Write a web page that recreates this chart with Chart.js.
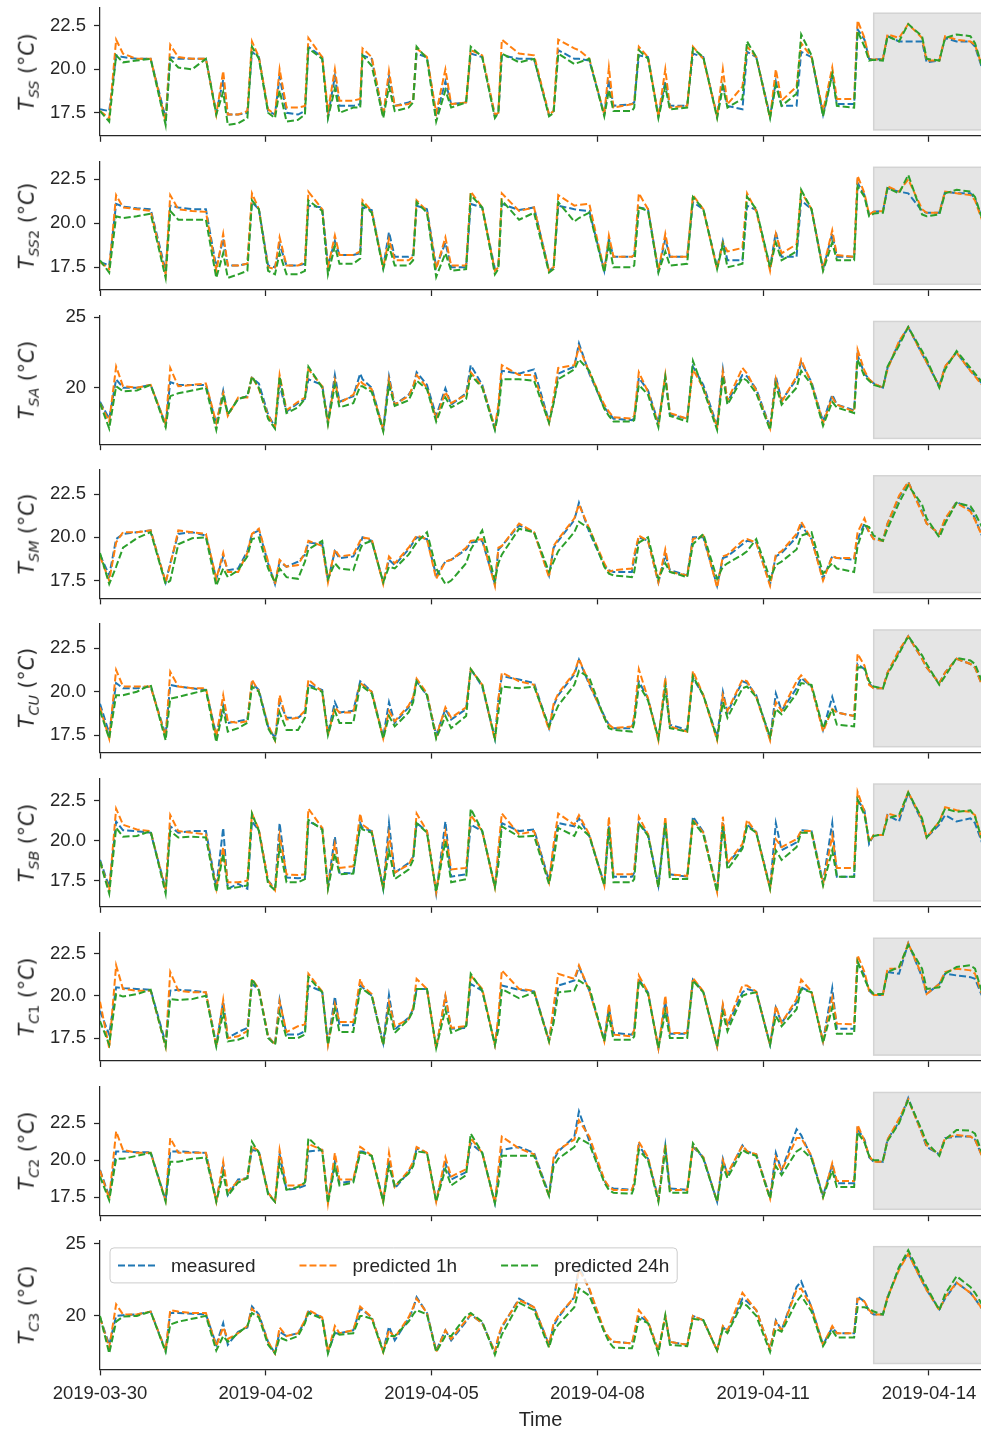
<!DOCTYPE html>
<html>
<head>
<meta charset="utf-8">
<script src="https://cdn.jsdelivr.net/npm/chart.js@4.4.1/dist/chart.umd.min.js"></script>
<style>
  html, body { margin: 0; padding: 0; background: #fff; }
  #fig { position: relative; width: 981px; height: 1433px; overflow: hidden; }
  #fig canvas { position: absolute; left: 0; }
  .ylab {
    position: absolute; left: 27px; white-space: nowrap; line-height: 1;
    transform: translate(-50%, -50%) rotate(-90deg);
    font-family: "DejaVu Sans", sans-serif; font-size: 20.5px; color: #262626;
  }
  .ylab i { font-style: italic; }
  .ylab sub { font-size: 0.7em; vertical-align: -0.35em; line-height: 0; }
</style>
</head>
<body>
<div id="fig"></div>
<script>
// time axis in hours since 2019-03-30 00:00
const hours = [
  0, 4, 7, 10, 16, 22, 28.5, 30.5, 34, 40, 46,
  50.5, 53.5, 55.5, 60, 64, 66, 69,
  73, 76, 78, 81, 86, 89, 90.5, 96.5,
  99, 102, 104, 110, 113, 114, 118,
  123, 125.5, 128, 134, 136, 137.5, 142,
  146, 150, 152.5, 159, 161, 166,
  171.5, 173, 174.5, 182, 188.5,
  195, 197, 199, 206, 208, 212.5,
  219, 221, 223, 231, 232, 234, 238,
  242.5, 245.5, 247.5, 255, 257.5, 262,
  268, 270.5, 272.5, 279, 281, 285,
  291, 293.5, 296, 302.5, 304.5, 309,
  314, 318, 320, 327.5, 329, 332, 334,
  336, 340, 342, 347, 351, 357, 359, 364.5, 367, 372, 378, 380, 383
];
const tickHours = [0, 72, 144, 216, 288, 360];
const tickDates = ['2019-03-30', '2019-04-02', '2019-04-05', '2019-04-08', '2019-04-11', '2019-04-14'];
const seriesNames = ['measured', 'predicted 1h', 'predicted 24h'];
const seriesColors = ['#1f77b4', '#ff7f0e', '#2ca02c'];
const testStart = 336, testEnd = 400;

const tSS_meas = [
  17.7, 17.6, 20.8, 20.7, 20.6, 20.6, 17.2, 20.7, 20.6, 20.6, 20.6,
  17.5, 19.4, 17.4, 17.4, 17.5, 21.0, 20.7,
  17.6, 17.4, 19.6, 17.5, 17.4, 17.6, 21.3, 20.7,
  17.3, 19.6, 17.9, 17.9, 18.0, 20.8, 20.6,
  17.3, 19.6, 17.9, 18.1, 18.2, 20.9, 20.7,
  17.3, 19.3, 18.0, 18.1, 20.9, 20.7,
  17.3, 17.5, 20.8, 20.6, 20.6,
  17.4, 17.6, 21.1, 20.6, 20.6, 20.5,
  17.4, 19.4, 17.9, 18.0, 18.1, 20.8, 20.7,
  17.3, 19.3, 17.9, 17.9, 20.9, 20.7,
  17.3, 19.2, 17.9, 17.7, 21.0, 20.7,
  17.3, 19.3, 17.9, 17.9, 21.0, 20.7,
  17.4, 19.8, 18.0, 18.0, 22.3, 21.7, 20.6,
  20.55, 20.6, 21.9, 21.6, 21.6, 21.6, 20.4, 20.5, 21.8, 21.6, 21.6, 21.3, 20.1
];
const tSS_1h = [
  17.6, 17.2, 21.7, 20.9, 20.6, 20.6, 17.0, 21.4, 20.7, 20.6, 20.6,
  17.4, 19.9, 17.4, 17.4, 17.6, 21.6, 20.7,
  17.7, 17.4, 20.0, 17.8, 17.8, 17.9, 21.8, 20.7,
  17.6, 20.0, 18.2, 18.2, 18.3, 21.2, 20.7,
  17.3, 19.9, 17.9, 18.0, 18.2, 21.2, 20.7,
  17.5, 20.0, 18.0, 18.1, 21.1, 20.8,
  17.4, 17.5, 21.7, 20.9, 20.8,
  17.4, 17.6, 21.7, 21.2, 21.1, 20.6,
  17.4, 20.1, 17.8, 18.0, 18.1, 21.3, 20.7,
  17.3, 20.0, 17.8, 17.9, 21.3, 20.6,
  17.3, 20.0, 18.0, 19.0, 21.3, 20.7,
  17.2, 20.0, 18.2, 19.0, 21.5, 20.7,
  17.6, 20.1, 18.3, 18.3, 22.8, 21.8, 20.6,
  20.55, 20.6, 22.0, 21.8, 22.6, 21.8, 20.5, 20.5, 21.9, 21.7, 21.6, 21.4, 20.2
];
const tSS_24h = [
  17.6, 17.0, 20.8, 20.4, 20.5, 20.6, 16.8, 20.6, 20.1, 20.0, 20.6,
  17.4, 18.7, 16.8, 16.9, 17.2, 21.3, 20.6,
  17.5, 17.2, 18.8, 17.0, 17.1, 17.4, 21.2, 20.6,
  17.2, 18.9, 17.5, 17.8, 17.8, 20.8, 20.2,
  17.2, 19.0, 17.6, 17.8, 18.1, 21.3, 20.6,
  17.0, 18.8, 17.8, 18.1, 21.3, 20.7,
  17.2, 17.5, 20.9, 20.4, 20.6,
  17.3, 17.5, 20.9, 20.3, 20.4, 20.6,
  17.3, 18.8, 17.6, 17.6, 17.8, 21.1, 20.6,
  17.2, 19.0, 17.7, 17.8, 21.2, 20.7,
  17.2, 19.0, 17.8, 18.3, 21.6, 20.7,
  17.2, 19.1, 17.9, 18.6, 22.0, 20.8,
  17.3, 19.7, 17.9, 17.8, 22.2, 21.3, 20.5,
  20.55, 20.5, 21.9, 21.6, 22.6, 21.9, 20.6, 20.5, 21.8, 22.0, 21.9, 21.5, 20.2
];

const tSS2_meas = [
  17.8, 17.6, 21.1, 20.95, 20.85, 20.8, 17.3, 21.0, 20.9, 20.8, 20.8,
  17.5, 19.1, 17.6, 17.6, 17.7, 21.2, 20.8,
  17.6, 17.5, 18.8, 17.6, 17.6, 17.7, 21.0, 20.9,
  17.6, 19.0, 18.2, 18.2, 18.3, 20.9, 20.75,
  17.5, 19.5, 18.1, 18.1, 18.2, 21.0, 20.8,
  17.5, 18.9, 17.5, 17.5, 21.1, 20.9,
  17.4, 17.6, 21.1, 20.75, 20.9,
  17.3, 17.5, 21.0, 20.8, 20.75, 20.7,
  17.3, 19.1, 18.1, 18.1, 18.2, 20.9, 20.8,
  17.3, 19.1, 18.1, 18.1, 21.2, 20.8,
  17.5, 19.0, 17.9, 17.9, 21.0, 20.75,
  17.5, 19.5, 18.1, 18.1, 21.3, 20.8,
  17.4, 19.4, 18.1, 18.1, 22.3, 21.6, 20.5,
  20.65, 20.7, 22.0, 21.8, 21.7, 20.7, 20.6, 20.6, 21.8, 21.7, 21.7, 21.4, 20.3
];
const tSS2_1h = [
  17.8, 17.4, 21.6, 20.9, 20.8, 20.7, 17.1, 21.6, 20.8, 20.7, 20.65,
  17.3, 19.4, 17.6, 17.6, 17.7, 21.7, 20.8,
  17.5, 17.4, 19.2, 17.6, 17.6, 17.8, 21.8, 20.8,
  17.5, 19.3, 18.2, 18.2, 18.4, 21.3, 20.7,
  17.5, 19.1, 17.9, 17.9, 18.1, 21.3, 20.7,
  17.4, 19.2, 17.6, 17.6, 21.8, 20.9,
  17.3, 17.5, 21.7, 20.7, 20.9,
  17.3, 17.5, 21.6, 21.0, 21.05, 21.1,
  17.3, 19.3, 18.1, 18.1, 18.2, 21.7, 20.8,
  17.3, 19.4, 18.1, 18.1, 21.6, 20.8,
  17.4, 18.9, 18.4, 18.6, 21.7, 20.7,
  17.3, 19.4, 18.3, 18.8, 21.8, 20.8,
  17.4, 19.6, 18.2, 18.1, 22.7, 21.7, 20.5,
  20.65, 20.7, 22.1, 21.8, 22.5, 20.8, 20.6, 20.6, 21.8, 21.7, 21.6, 21.3, 20.2
];
const tSS2_24h = [
  17.9, 17.2, 20.4, 20.3, 20.4, 20.55, 16.9, 20.7, 20.2, 20.2, 20.2,
  16.9, 18.3, 16.9, 17.1, 17.3, 21.3, 20.8,
  17.3, 17.1, 18.3, 17.1, 17.1, 17.3, 21.3, 20.7,
  17.1, 18.7, 17.7, 17.7, 18.0, 21.1, 20.6,
  17.4, 18.7, 17.6, 17.6, 17.9, 21.2, 20.6,
  16.95, 18.3, 17.3, 17.4, 21.6, 20.9,
  17.1, 17.4, 21.3, 20.2, 20.6,
  17.2, 17.4, 21.2, 20.1, 20.3, 20.6,
  17.2, 18.8, 17.5, 17.5, 17.6, 20.9, 20.7,
  17.2, 18.4, 17.6, 17.7, 21.5, 20.8,
  17.4, 18.8, 17.5, 17.7, 21.5, 20.8,
  17.5, 18.9, 17.9, 18.4, 21.9, 20.8,
  17.3, 18.9, 17.9, 17.9, 22.1, 21.5, 20.4,
  20.55, 20.6, 22.0, 21.7, 22.75, 20.5, 20.4, 20.5, 21.7, 21.9, 21.8, 21.5, 20.3
];

const tSA_meas = [
  19.0, 17.8, 20.6, 20.0, 20.0, 20.2, 17.4, 20.4, 20.2, 20.2, 20.2,
  17.4, 19.8, 18.1, 19.2, 19.4, 20.7, 20.3,
  18.1, 17.2, 20.2, 18.3, 18.9, 19.2, 20.6, 20.2,
  17.6, 20.9, 19.0, 19.4, 21.0, 20.6, 20.0,
  17.0, 20.8, 18.8, 19.5, 20.0, 21.1, 20.2,
  18.0, 19.95, 18.8, 19.6, 21.6, 20.2,
  17.1, 18.5, 21.2, 21.0, 21.3,
  17.6, 19.0, 21.0, 21.5, 23.15, 21.0,
  18.6, 18.2, 17.8, 17.7, 17.8, 20.7, 19.8,
  17.5, 20.8, 18.1, 17.8, 21.5, 20.2,
  17.3, 21.3, 19.0, 20.9, 20.8, 19.9,
  17.2, 20.8, 19.1, 20.6, 21.8, 20.4,
  17.6, 19.5, 18.8, 18.4, 22.3, 21.0, 20.6,
  20.3, 20.0, 21.4, 23.2, 24.3, 22.4, 21.8, 20.1, 21.5, 22.5, 21.2, 20.9, 20.3
];
const tSA_1h = [
  18.9, 17.6, 21.5, 20.1, 20.0, 20.2, 17.4, 21.4, 20.1, 20.2, 20.3,
  17.5, 19.6, 18.0, 19.3, 19.3, 20.8, 19.9,
  18.0, 17.2, 20.9, 18.4, 19.0, 19.3, 21.3, 20.1,
  17.5, 20.5, 18.9, 19.5, 20.5, 20.3, 19.9,
  17.0, 20.6, 18.8, 19.4, 20.1, 20.9, 20.0,
  17.8, 19.7, 18.9, 19.5, 21.1, 20.1,
  17.2, 18.8, 21.6, 20.9, 20.9,
  17.5, 19.3, 21.4, 21.6, 22.9, 21.1,
  18.8, 18.3, 17.9, 17.8, 18.0, 21.1, 19.7,
  17.4, 20.9, 18.2, 17.8, 21.3, 20.0,
  17.2, 21.1, 19.1, 21.4, 21.0, 19.8,
  17.1, 20.6, 19.0, 20.8, 22.0, 20.3,
  17.5, 19.3, 18.8, 18.3, 22.7, 21.2, 20.6,
  20.3, 20.0, 21.3, 23.3, 24.3, 22.4, 21.8, 20.1, 21.5, 22.5, 21.2, 20.8, 20.2
];
const tSA_24h = [
  18.9, 17.1, 20.1, 19.75, 19.8, 20.2, 17.2, 19.4, 19.6, 19.8, 20.0,
  17.0, 19.5, 18.1, 19.2, 19.4, 20.8, 20.0,
  17.8, 17.1, 20.8, 18.2, 18.6, 19.2, 21.5, 20.0,
  17.4, 20.2, 18.6, 18.9, 20.1, 20.1, 19.7,
  16.9, 20.2, 18.7, 19.1, 19.8, 20.5, 19.9,
  17.6, 19.3, 18.6, 19.2, 20.9, 20.0,
  17.0, 18.2, 20.6, 20.6, 20.5,
  17.5, 18.9, 20.6, 21.3, 22.0, 21.2,
  18.5, 18.0, 17.6, 17.6, 17.7, 20.2, 19.5,
  17.2, 20.7, 18.0, 17.6, 21.9, 19.9,
  17.0, 20.8, 18.8, 20.7, 20.5, 19.6,
  17.0, 20.2, 18.8, 20.0, 21.2, 20.2,
  17.3, 19.0, 18.6, 18.2, 22.0, 20.8, 20.5,
  20.2, 20.0, 21.5, 23.0, 24.3, 22.6, 22.0, 20.0, 21.3, 22.6, 21.4, 21.0, 20.4
];

const tSM_meas = [
  19.0, 17.8, 19.9, 20.2, 20.3, 20.4, 17.4, 18.5, 20.2, 20.3, 20.1,
  17.6, 18.9, 18.1, 18.2, 19.2, 20.2, 20.4,
  18.5, 17.3, 18.6, 18.3, 18.6, 19.0, 19.7, 19.6,
  17.5, 19.2, 18.8, 18.9, 19.6, 20.0, 19.8,
  17.4, 18.7, 18.4, 19.3, 19.7, 20.0, 19.9,
  17.8, 18.6, 18.7, 19.3, 19.7, 19.8,
  17.3, 19.3, 19.5, 20.7, 20.3,
  17.8, 19.4, 19.8, 21.0, 22.0, 20.3,
  18.4, 18.1, 18.0, 18.0, 18.8, 20.0, 19.8,
  17.4, 19.0, 18.1, 17.8, 20.0, 20.0,
  17.2, 18.8, 18.9, 19.6, 19.8, 19.7,
  17.3, 18.9, 19.1, 20.0, 20.7, 19.9,
  17.6, 18.9, 18.8, 18.7, 19.9, 20.8, 20.3,
  19.9, 19.8, 20.8, 22.3, 23.2, 21.5, 20.8, 20.2, 21.0, 22.05, 21.6, 21.1, 20.1
];
const tSM_1h = [
  18.9, 17.5, 19.7, 20.3, 20.3, 20.4, 17.4, 18.4, 20.4, 20.3, 20.2,
  17.6, 19.1, 18.0, 18.0, 19.1, 20.2, 20.5,
  18.6, 17.3, 18.7, 18.3, 18.4, 19.1, 19.8, 19.5,
  17.4, 19.3, 18.9, 19.0, 19.8, 20.0, 19.9,
  17.3, 18.9, 18.5, 19.4, 19.8, 20.1, 19.9,
  17.6, 18.6, 18.7, 19.4, 19.8, 19.9,
  17.2, 19.4, 19.5, 20.8, 20.3,
  17.7, 19.5, 19.9, 21.1, 21.9, 20.5,
  18.5, 18.0, 18.1, 18.2, 19.0, 20.1, 19.8,
  17.4, 19.3, 18.0, 17.8, 19.9, 20.1,
  17.1, 18.9, 19.0, 19.8, 19.9, 19.7,
  17.2, 19.0, 19.2, 20.2, 20.9, 19.9,
  17.5, 18.9, 18.8, 18.8, 20.3, 21.1, 20.3,
  19.9, 19.8, 20.8, 22.4, 23.2, 21.4, 20.8, 20.2, 21.1, 22.0, 21.5, 21.0, 20.1
];
const tSM_24h = [
  19.1, 17.3, 18.3, 19.4, 19.95, 20.3, 17.3, 17.5, 19.6, 19.95, 20.0,
  17.2, 18.2, 17.7, 18.1, 18.9, 19.9, 20.0,
  18.2, 17.4, 18.2, 17.7, 17.6, 18.6, 19.3, 19.8,
  17.6, 18.5, 18.2, 18.1, 19.3, 19.6, 19.8,
  17.4, 18.3, 18.2, 19.0, 19.4, 19.7, 20.3,
  18.2, 17.3, 17.5, 18.5, 19.3, 20.4,
  17.5, 18.5, 19.0, 20.5, 20.3,
  18.0, 18.6, 19.2, 20.3, 20.9, 20.5,
  18.3, 17.9, 17.8, 17.7, 18.0, 19.7, 20.0,
  17.6, 18.5, 18.0, 17.7, 19.6, 20.2,
  17.6, 18.3, 18.5, 19.0, 19.2, 19.9,
  17.6, 18.4, 18.6, 19.3, 20.1, 20.3,
  17.9, 18.5, 18.2, 18.0, 19.5, 20.7, 20.6,
  20.1, 19.8, 20.5, 22.0, 23.0, 21.9, 21.1, 20.0, 20.8, 22.0, 21.8, 21.4, 20.6
];

const tCU_meas = [
  19.3, 17.6, 20.5, 20.2, 20.2, 20.3, 17.5, 20.4, 20.3, 20.2, 20.1,
  17.5, 19.2, 18.2, 18.3, 18.4, 20.5, 20.1,
  18.0, 17.3, 19.4, 18.5, 18.5, 18.8, 20.4, 20.1,
  17.6, 19.4, 18.8, 18.9, 20.6, 20.5, 20.0,
  17.4, 19.4, 18.2, 19.1, 19.6, 20.6, 19.8,
  17.5, 19.0, 18.4, 19.0, 21.3, 20.3,
  17.3, 19.5, 20.9, 20.7, 20.5,
  17.9, 19.2, 19.8, 21.0, 21.85, 20.4,
  18.6, 18.1, 17.9, 17.9, 18.4, 20.6, 19.6,
  17.3, 20.5, 18.1, 17.8, 20.8, 19.8,
  17.4, 20.0, 18.8, 20.6, 20.5, 19.8,
  17.3, 19.9, 18.9, 20.2, 20.8, 20.3,
  17.8, 19.7, 18.8, 18.6, 21.6, 21.3, 20.5,
  20.2, 20.2, 21.1, 22.3, 23.2, 21.9, 21.4, 20.5, 21.1, 21.9, 21.6, 21.4, 20.4
];
const tCU_1h = [
  19.1, 17.3, 21.25, 20.3, 20.3, 20.3, 17.4, 21.15, 20.3, 20.2, 20.2,
  17.4, 19.8, 18.3, 18.2, 18.3, 20.7, 20.0,
  18.1, 17.2, 19.8, 18.4, 18.5, 18.9, 20.7, 20.0,
  17.5, 19.1, 18.8, 18.8, 20.5, 20.4, 20.0,
  17.3, 18.9, 18.3, 19.2, 19.7, 20.75, 19.9,
  17.4, 19.1, 18.5, 19.1, 21.3, 20.4,
  17.2, 19.6, 21.1, 20.6, 20.4,
  17.8, 19.3, 19.9, 21.1, 21.9, 20.5,
  18.5, 18.1, 17.9, 18.0, 18.6, 21.3, 19.6,
  17.2, 20.8, 18.0, 17.7, 21.2, 19.8,
  17.2, 19.8, 18.9, 20.7, 20.6, 19.7,
  17.2, 19.4, 18.9, 20.6, 20.95, 20.3,
  17.7, 19.0, 18.8, 18.6, 22.2, 21.5, 20.4,
  20.2, 20.2, 21.1, 22.4, 23.2, 21.9, 21.4, 20.5, 21.1, 21.9, 21.6, 21.4, 20.4
];
const tCU_24h = [
  18.9, 17.3, 19.8, 19.8, 20.0, 20.4, 17.2, 19.6, 19.7, 19.9, 20.1,
  17.1, 19.0, 17.7, 17.9, 18.2, 20.3, 20.0,
  17.9, 17.2, 18.8, 17.8, 17.8, 18.5, 20.3, 20.0,
  17.5, 18.9, 18.2, 18.2, 20.4, 20.3, 19.9,
  17.3, 18.6, 18.0, 18.8, 19.4, 20.6, 19.8,
  17.3, 18.6, 17.9, 18.6, 21.3, 20.4,
  17.3, 18.8, 20.3, 20.2, 20.3,
  18.0, 18.6, 19.2, 20.4, 21.2, 20.8,
  18.5, 17.9, 17.8, 17.7, 18.2, 20.4, 19.5,
  17.3, 20.2, 17.9, 17.7, 20.9, 19.8,
  17.3, 19.4, 18.5, 20.2, 20.3, 19.7,
  17.4, 19.0, 18.7, 19.9, 20.5, 20.4,
  17.9, 19.0, 18.1, 18.0, 21.4, 21.4, 20.6,
  20.3, 20.2, 21.0, 22.2, 23.2, 22.1, 21.6, 20.4, 20.9, 21.95, 21.8, 21.6, 20.6
];

const tSB_meas = [
  18.8, 17.1, 21.2, 20.65, 20.6, 20.5, 17.0, 20.9, 20.5, 20.6, 20.6,
  17.1, 20.8, 17.0, 17.3, 17.0, 21.2, 20.65,
  17.5, 17.0, 21.1, 17.7, 17.65, 17.7, 21.2, 20.8,
  17.2, 20.25, 18.0, 17.95, 21.1, 20.8, 20.6,
  17.0, 21.1, 18.0, 18.6, 19.0, 21.1, 20.6,
  16.7, 21.2, 17.75, 17.9, 21.0, 20.6,
  17.1, 19.0, 21.1, 20.6, 20.7,
  17.5, 19.5, 21.1, 20.9, 21.4, 20.3,
  17.3, 20.9, 17.75, 17.75, 18.0, 21.1, 20.4,
  17.2, 21.2, 17.9, 17.75, 21.5, 20.55,
  16.9, 21.1, 18.6, 19.6, 21.0, 20.55,
  17.1, 21.1, 19.4, 19.9, 20.65, 20.6,
  17.4, 21.1, 17.75, 17.75, 22.55, 21.9, 19.8,
  20.35, 20.35, 21.6, 21.2, 23.0, 21.2, 20.2, 21.0, 21.6, 21.2, 21.4, 21.1, 19.9
];
const tSB_1h = [
  18.7, 16.9, 22.0, 21.0, 20.7, 20.6, 16.9, 21.6, 20.6, 20.5, 20.4,
  17.0, 19.6, 17.4, 17.4, 17.5, 21.7, 20.7,
  17.5, 16.9, 20.3, 17.9, 17.85, 17.9, 22.0, 20.8,
  17.1, 19.8, 18.3, 18.4, 21.7, 21.0, 20.6,
  17.0, 20.4, 18.0, 18.5, 19.0, 21.7, 20.6,
  16.8, 20.5, 18.2, 18.3, 21.6, 20.6,
  17.1, 19.5, 21.7, 20.4, 20.6,
  17.4, 19.8, 21.7, 21.0, 21.6, 20.4,
  17.2, 21.5, 17.9, 17.9, 18.2, 21.5, 20.4,
  17.1, 21.5, 17.9, 17.8, 21.3, 20.5,
  16.8, 21.5, 18.6, 19.8, 21.3, 20.5,
  17.0, 20.1, 19.6, 20.1, 20.6, 20.6,
  17.3, 20.3, 18.3, 18.3, 23.05, 21.8, 19.9,
  20.35, 20.35, 21.7, 21.5, 23.05, 21.3, 20.2, 21.2, 22.1, 21.9, 21.8, 21.6, 20.0
];
const tSB_24h = [
  18.7, 16.7, 20.8, 20.25, 20.3, 20.6, 16.7, 20.6, 20.2, 20.25, 20.2,
  16.8, 19.2, 17.0, 17.1, 17.2, 21.7, 20.6,
  17.3, 16.9, 19.6, 17.4, 17.4, 17.6, 21.3, 20.7,
  17.0, 19.2, 17.9, 17.95, 20.9, 20.7, 20.5,
  17.0, 19.4, 17.6, 18.2, 18.8, 21.1, 20.5,
  16.8, 20.0, 17.4, 17.6, 22.0, 20.6,
  17.1, 18.5, 20.9, 20.25, 20.3,
  17.3, 18.8, 20.8, 20.3, 20.9, 20.3,
  17.2, 20.8, 17.4, 17.4, 17.6, 21.1, 20.3,
  17.1, 21.1, 17.6, 17.6, 21.2, 20.4,
  16.8, 20.9, 18.2, 19.5, 20.9, 20.5,
  17.0, 19.4, 18.8, 19.6, 20.5, 20.5,
  17.2, 19.4, 17.75, 17.75, 22.55, 21.6, 20.0,
  20.3, 20.4, 21.4, 21.6, 23.0, 21.4, 20.2, 21.2, 22.0, 21.8, 21.9, 21.5, 20.1
];

const tC1_meas = [
  19.1, 17.7, 20.5, 20.45, 20.4, 20.35, 17.2, 20.3, 20.35, 20.3, 20.2,
  17.1, 19.65, 17.5, 17.85, 18.1, 20.7, 20.35,
  17.6, 17.1, 19.75, 17.7, 17.7, 17.9, 20.6, 20.25,
  17.2, 19.95, 18.25, 18.25, 20.6, 20.5, 20.0,
  17.2, 20.05, 18.0, 18.7, 19.2, 20.4, 20.4,
  16.9, 19.95, 18.05, 18.1, 20.7, 20.3,
  17.1, 18.5, 20.6, 20.35, 20.25,
  17.4, 18.9, 20.6, 20.9, 21.7, 20.3,
  17.4, 19.3, 17.8, 17.7, 18.0, 20.95, 20.2,
  16.9, 19.65, 17.75, 17.75, 20.95, 20.25,
  17.0, 19.4, 18.2, 20.2, 20.4, 20.25,
  17.1, 19.3, 18.4, 19.6, 20.5, 20.2,
  17.3, 20.45, 18.05, 18.05, 22.0, 21.2, 20.3,
  20.05, 20.05, 21.4, 21.3, 23.1, 21.1, 20.1, 20.7, 21.3, 21.2, 21.1, 21.0, 20.0
];
const tC1_1h = [
  19.65, 16.9, 21.8, 20.4, 20.3, 20.3, 17.0, 21.4, 20.3, 20.2, 20.2,
  17.0, 19.75, 17.5, 17.6, 17.9, 21.0, 20.4,
  17.6, 17.1, 19.65, 17.85, 18.2, 18.3, 21.3, 20.25,
  17.1, 19.5, 18.45, 18.45, 21.0, 20.6, 20.1,
  17.1, 19.6, 18.2, 18.6, 19.3, 21.0, 20.4,
  16.9, 20.0, 18.1, 18.2, 21.2, 20.4,
  17.1, 18.8, 21.5, 20.4, 20.3,
  17.3, 19.4, 21.3, 21.0, 21.8, 20.3,
  17.3, 19.5, 17.7, 17.6, 18.0, 21.2, 20.2,
  16.9, 20.0, 17.8, 17.8, 21.05, 20.25,
  17.0, 19.5, 18.3, 20.6, 20.6, 20.25,
  17.1, 19.4, 18.4, 19.8, 20.95, 20.25,
  17.3, 19.9, 18.35, 18.3, 22.4, 21.4, 20.3,
  20.05, 20.05, 21.6, 21.6, 23.1, 21.2, 20.1, 20.7, 21.4, 21.6, 21.5, 21.3, 20.1
];
const tC1_24h = [
  18.5, 17.1, 20.1, 19.95, 20.1, 20.35, 17.0, 19.8, 19.75, 19.8, 20.0,
  17.0, 19.0, 17.3, 17.4, 17.6, 21.0, 20.3,
  17.5, 17.1, 19.0, 17.5, 17.5, 17.7, 21.1, 20.2,
  17.1, 19.2, 17.85, 17.85, 20.4, 20.4, 20.0,
  17.1, 19.2, 17.8, 18.6, 19.1, 20.4, 20.4,
  16.9, 19.2, 17.8, 18.2, 21.3, 20.3,
  17.1, 18.0, 20.4, 19.85, 20.2,
  17.3, 18.4, 20.2, 20.3, 20.9, 20.5,
  17.3, 18.8, 17.4, 17.4, 17.6, 20.9, 20.1,
  16.9, 19.05, 17.5, 17.5, 20.9, 20.2,
  17.0, 19.0, 17.9, 20.0, 20.1, 20.2,
  17.1, 18.8, 18.2, 19.2, 20.4, 20.2,
  17.2, 19.3, 17.75, 17.75, 22.0, 21.0, 20.4,
  20.1, 20.1, 21.4, 21.7, 23.0, 21.6, 20.4, 20.5, 21.3, 21.7, 21.8, 21.6, 20.2
];

const tC2_meas = [
  19.35, 17.55, 20.6, 20.6, 20.55, 20.55, 17.3, 20.6, 20.6, 20.55, 20.5,
  17.3, 19.6, 17.65, 18.7, 18.8, 20.7, 20.6,
  17.8, 17.2, 20.4, 18.0, 18.1, 18.3, 20.6, 20.7,
  17.3, 19.9, 18.45, 18.6, 20.6, 20.6, 20.3,
  17.3, 20.0, 18.1, 19.2, 19.8, 20.8, 20.5,
  17.3, 19.8, 18.7, 19.2, 21.15, 20.5,
  17.1, 18.9, 20.7, 20.9, 20.5,
  17.7, 20.0, 20.6, 21.6, 23.3, 21.3,
  18.6, 18.2, 18.1, 18.0, 18.4, 21.0, 20.1,
  17.4, 21.0, 18.1, 18.0, 20.9, 20.2,
  17.2, 20.1, 19.0, 21.0, 20.6, 20.4,
  17.5, 20.5, 19.3, 22.1, 21.7, 20.2,
  17.6, 19.7, 18.45, 18.45, 22.1, 21.4, 20.2,
  19.9, 19.9, 21.4, 22.6, 24.2, 21.8, 20.9, 20.4, 21.5, 21.6, 21.6, 21.4, 20.3
];
const tC2_1h = [
  19.3, 17.4, 21.95, 20.7, 20.5, 20.5, 17.3, 21.5, 20.5, 20.5, 20.5,
  17.2, 19.9, 17.9, 18.6, 18.8, 20.95, 20.6,
  17.8, 17.2, 20.7, 18.3, 18.3, 18.4, 21.1, 20.7,
  17.1, 20.5, 18.7, 18.7, 20.9, 20.8, 20.3,
  17.2, 20.5, 18.2, 19.3, 19.9, 20.9, 20.5,
  17.2, 20.2, 18.9, 19.4, 21.5, 20.5,
  17.1, 19.4, 21.6, 20.8, 20.4,
  17.6, 20.2, 20.7, 21.4, 22.7, 21.6,
  18.7, 18.2, 18.0, 18.0, 18.5, 21.25, 20.2,
  17.3, 21.1, 18.0, 18.0, 21.0, 20.2,
  17.2, 20.0, 19.1, 21.0, 20.6, 20.4,
  17.4, 20.2, 19.3, 21.5, 21.5, 20.3,
  17.5, 19.8, 18.6, 18.6, 22.4, 21.3, 20.3,
  19.9, 19.9, 21.4, 22.8, 24.1, 21.8, 21.0, 20.4, 21.5, 21.7, 21.6, 21.4, 20.3
];
const tC2_24h = [
  18.9, 17.3, 20.1, 20.1, 20.3, 20.5, 17.2, 19.9, 19.9, 20.1, 20.2,
  17.2, 19.1, 17.6, 18.5, 18.8, 21.25, 20.5,
  17.7, 17.2, 19.8, 18.0, 18.2, 18.5, 21.5, 20.6,
  17.1, 19.6, 18.3, 18.5, 20.5, 20.5, 20.3,
  17.2, 19.6, 18.3, 19.1, 19.6, 20.6, 20.5,
  17.2, 19.4, 18.3, 19.0, 21.8, 20.5,
  17.1, 18.4, 20.3, 20.3, 20.3,
  17.6, 19.6, 20.1, 20.9, 21.5, 21.1,
  18.5, 18.0, 17.8, 17.75, 18.2, 20.7, 20.0,
  17.2, 20.7, 17.8, 17.8, 21.15, 20.1,
  17.2, 19.6, 18.8, 20.7, 20.5, 20.3,
  17.4, 19.6, 19.0, 20.6, 20.8, 20.1,
  17.5, 19.3, 18.2, 18.2, 21.9, 21.2, 20.3,
  20.0, 20.0, 21.3, 22.5, 24.1, 22.0, 21.2, 20.3, 21.4, 22.05, 22.0, 21.8, 20.5
];

const tC3_meas = [
  19.9, 18.0, 20.0, 20.05, 20.1, 20.3, 17.6, 20.2, 20.2, 20.15, 20.1,
  18.0, 19.5, 18.0, 18.9, 19.2, 20.65, 20.1,
  18.2, 17.4, 18.9, 18.6, 18.8, 19.6, 20.3, 19.9,
  17.5, 18.8, 18.8, 19.0, 20.5, 20.4, 19.9,
  17.6, 19.25, 18.3, 19.8, 20.5, 21.3, 20.2,
  17.6, 19.0, 18.3, 19.6, 20.1, 19.5,
  17.5, 18.5, 19.2, 21.2, 20.6,
  18.0, 19.3, 19.9, 21.3, 23.5, 21.8,
  18.9, 18.45, 18.2, 18.1, 18.7, 20.0, 19.6,
  17.6, 19.9, 18.2, 18.0, 20.0, 19.7,
  17.6, 19.25, 18.9, 21.2, 21.0, 20.4,
  17.7, 19.7, 19.0, 22.0, 22.4, 20.6,
  18.0, 19.2, 18.8, 18.8, 21.35, 21.0, 20.3,
  20.1, 20.1, 21.3, 23.3, 24.35, 22.4, 21.8, 20.45, 21.2, 22.3, 21.6, 21.2, 20.5
];
const tC3_1h = [
  19.9, 17.8, 20.8, 20.1, 20.1, 20.3, 17.6, 20.4, 20.3, 20.2, 20.2,
  17.9, 19.2, 18.4, 18.8, 19.3, 20.5, 20.0,
  18.2, 17.4, 19.2, 18.6, 18.8, 19.7, 20.4, 19.9,
  17.5, 19.3, 18.8, 19.0, 20.65, 20.5, 19.9,
  17.5, 19.0, 18.5, 19.9, 20.6, 21.2, 20.2,
  17.5, 19.0, 18.4, 19.7, 20.1, 19.5,
  17.5, 18.6, 19.3, 21.1, 20.6,
  18.0, 19.5, 20.0, 21.3, 23.2, 21.9,
  19.0, 18.5, 18.2, 18.1, 18.8, 20.4, 19.6,
  17.6, 20.0, 18.2, 18.0, 20.0, 19.7,
  17.6, 19.3, 19.0, 21.6, 21.2, 20.4,
  17.7, 19.6, 19.0, 21.8, 21.9, 20.6,
  18.0, 19.3, 18.8, 18.8, 21.2, 21.0, 20.4,
  20.1, 20.1, 21.3, 23.2, 24.3, 22.4, 21.8, 20.4, 21.3, 22.3, 21.6, 21.2, 20.5
];
const tC3_24h = [
  20.0, 17.4, 19.6, 19.95, 20.0, 20.3, 17.5, 19.4, 19.6, 19.8, 20.0,
  17.6, 18.6, 18.2, 18.8, 19.3, 20.2, 19.9,
  18.0, 17.4, 18.5, 18.3, 18.6, 19.5, 20.2, 19.8,
  17.4, 18.9, 18.7, 18.8, 20.0, 20.0, 19.8,
  17.5, 18.6, 18.6, 19.6, 20.1, 20.4, 20.1,
  17.5, 18.6, 18.6, 20.0, 20.2, 19.6,
  17.3, 18.0, 18.7, 20.9, 20.4,
  17.8, 18.9, 19.4, 20.6, 21.9, 21.4,
  18.9, 18.2, 17.8, 17.75, 18.3, 19.8, 19.5,
  17.4, 20.05, 18.0, 17.9, 19.8, 19.7,
  17.6, 19.1, 18.8, 20.9, 20.7, 20.0,
  17.5, 19.1, 18.9, 21.0, 21.4, 20.3,
  17.9, 19.0, 18.5, 18.5, 20.6, 20.6, 20.5,
  20.3, 20.1, 21.2, 23.4, 24.55, 22.6, 22.0, 20.4, 21.5, 22.75, 22.0, 21.6, 20.8
];

const ink = '#262626';
const tickFont = { family: '"Liberation Sans", Arial, sans-serif', size: 18.5 };
const t3 = [17.5, 20, 22.5], t3Text = ['17.5', '20.0', '22.5'];
const t2 = [20, 25], t2Text = ['20', '25'];

const panels = [
  { sub: '<i>SS</i>',  min: 16.18, max: 23.56, ticks: t3, tickText: t3Text, band: [16.52, 23.22], data: [tSS_meas, tSS_1h, tSS_24h] },
  { sub: '<i>SS</i>2', min: 16.21, max: 23.51, ticks: t3, tickText: t3Text, band: [16.54, 23.18], data: [tSS2_meas, tSS2_1h, tSS2_24h] },
  { sub: '<i>SA</i>',  min: 15.99, max: 25.11, ticks: t2, tickText: t2Text, band: [16.40, 24.70], data: [tSA_meas, tSA_1h, tSA_24h] },
  { sub: '<i>SM</i>',  min: 16.47, max: 23.90, ticks: t3, tickText: t3Text, band: [16.81, 23.56], data: [tSM_meas, tSM_1h, tSM_24h] },
  { sub: '<i>CU</i>',  min: 16.49, max: 23.90, ticks: t3, tickText: t3Text, band: [16.83, 23.56], data: [tCU_meas, tCU_1h, tCU_24h] },
  { sub: '<i>SB</i>',  min: 15.87, max: 23.90, ticks: t3, tickText: t3Text, band: [16.24, 23.54], data: [tSB_meas, tSB_1h, tSB_24h] },
  { sub: '<i>C</i>1',  min: 16.14, max: 23.74, ticks: t3, tickText: t3Text, band: [16.49, 23.40], data: [tC1_meas, tC1_1h, tC1_24h] },
  { sub: '<i>C</i>2',  min: 16.29, max: 24.97, ticks: t3, tickText: t3Text, band: [16.69, 24.58], data: [tC2_meas, tC2_1h, tC2_24h] },
  { sub: '<i>C</i>3',  min: 16.29, max: 25.20, ticks: t2, tickText: t2Text, band: [16.70, 24.80], data: [tC3_meas, tC3_1h, tC3_24h] }
];

// grey test-period rectangle
const bandPlugin = {
  id: 'band',
  beforeDatasetsDraw(chart, args, opts) {
    const { ctx, scales: { x, y } } = chart;
    const x0 = x.getPixelForValue(opts.from), x1 = x.getPixelForValue(opts.to);
    const y0 = y.getPixelForValue(opts.hi), y1 = y.getPixelForValue(opts.lo);
    ctx.save();
    ctx.fillStyle = '#e5e5e5';
    ctx.strokeStyle = '#d3d3d3';
    ctx.lineWidth = 1.5;
    ctx.fillRect(x0, y0, x1 - x0, y1 - y0);
    ctx.strokeRect(x0, y0, x1 - x0, y1 - y0);
    ctx.restore();
  }
};

// framed legend inside the last panel
const legendPlugin = {
  id: 'boxLegend',
  afterDatasetsDraw(chart) {
    const { ctx, chartArea } = chart;
    ctx.save();
    ctx.font = '19px "Liberation Sans", Arial, sans-serif';
    const widths = seriesNames.map(n => ctx.measureText(n).width);
    const pad = 8, handle = 40, gap = 13, colGap = 44, h = 35;
    let w = pad * 2;
    widths.forEach((tw, i) => { w += handle + gap + tw + (i ? colGap : 0); });
    const bx = chartArea.left + 10, by = chartArea.top + 7;
    ctx.beginPath();
    ctx.roundRect(bx, by, w, h, 4);
    ctx.fillStyle = 'rgba(255,255,255,0.8)';
    ctx.fill();
    ctx.strokeStyle = '#cccccc';
    ctx.lineWidth = 1;
    ctx.stroke();
    let cx = bx + pad;
    const cy = by + h / 2;
    seriesNames.forEach((name, i) => {
      ctx.setLineDash([7, 3]);
      ctx.strokeStyle = seriesColors[i];
      ctx.lineWidth = 2;
      ctx.beginPath();
      ctx.moveTo(cx, cy);
      ctx.lineTo(cx + handle, cy);
      ctx.stroke();
      ctx.setLineDash([]);
      ctx.fillStyle = ink;
      ctx.textBaseline = 'middle';
      ctx.fillText(name, cx + handle + gap, cy + 1);
      cx += handle + gap + widths[i] + colGap;
    });
    ctx.restore();
  }
};

const fig = document.getElementById('fig');
const axTop0 = 7.3, axStep = 154.2, axHeight = 128.5, axLeft = 100;

panels.forEach((p, i) => {
  const last = i === panels.length - 1;
  const top = axTop0 + i * axStep;
  const cTop = Math.floor(top) - 14;
  const padTop = top - cTop;
  const cH = last ? 1433 - cTop : Math.ceil(padTop + axHeight + 9);
  const xH = cH - padTop - axHeight;

  const canvas = document.createElement('canvas');
  canvas.width = 981;
  canvas.height = cH;
  canvas.style.top = cTop + 'px';
  canvas.style.width = '981px';
  canvas.style.height = cH + 'px';
  fig.appendChild(canvas);

  const lab = document.createElement('div');
  lab.className = 'ylab';
  lab.style.top = (top + axHeight / 2) + 'px';
  lab.innerHTML = '<i>T</i><sub>' + p.sub + '</sub> (°<i>C</i>)';
  fig.appendChild(lab);

  p.data.forEach(v => { if (v.length !== hours.length) console.error('length mismatch', i, v.length); });

  new Chart(canvas, {
    type: 'line',
    data: {
      datasets: p.data.map((vals, k) => ({
        label: seriesNames[k],
        data: hours.map((h, j) => ({ x: h, y: vals[j] })),
        borderColor: seriesColors[k],
        borderWidth: 2,
        borderDash: [7, 3],
        pointRadius: 0,
        fill: false,
        tension: 0,
        order: 3 - k
      }))
    },
    options: {
      responsive: false,
      animation: false,
      devicePixelRatio: 1,
      layout: { padding: { top: padTop, left: 0, right: 0, bottom: 0 } },
      plugins: {
        legend: { display: false },
        tooltip: { enabled: false },
        band: { from: testStart, to: testEnd, lo: p.band[0], hi: p.band[1] }
      },
      scales: {
        x: {
          type: 'linear', min: 0, max: 382.6,
          border: { display: true, color: ink, width: 1.25 },
          grid: { drawOnChartArea: false, drawTicks: true, tickLength: 6, tickWidth: 1.25, tickColor: ink, color: ink },
          ticks: {
            autoSkip: false, maxRotation: 0, padding: 7, color: ink, font: tickFont,
            callback: (v, idx) => last ? tickDates[idx] : ''
          },
          afterBuildTicks: s => { s.ticks = tickHours.map(v => ({ value: v })); },
          afterFit: s => { s.height = xH; s.paddingLeft = 0; s.paddingRight = 0; },
          title: {
            display: last, text: 'Time', color: ink,
            font: { family: '"Liberation Sans", Arial, sans-serif', size: 20 },
            padding: { top: 0, bottom: 1 }
          }
        },
        y: {
          min: p.min, max: p.max,
          border: { display: true, color: ink, width: 1.25 },
          grid: { drawOnChartArea: false, drawTicks: true, tickLength: 6, tickWidth: 1.25, tickColor: ink, color: ink },
          ticks: {
            autoSkip: false, padding: 8, color: ink, font: tickFont,
            callback: (v, idx) => p.tickText[idx]
          },
          afterBuildTicks: s => { s.ticks = p.ticks.map(v => ({ value: v })); },
          afterFit: s => { s.width = axLeft; s.paddingTop = 0; s.paddingBottom = 0; }
        }
      }
    },
    plugins: last ? [bandPlugin, legendPlugin] : [bandPlugin]
  });
});
</script>
</body>
</html>
